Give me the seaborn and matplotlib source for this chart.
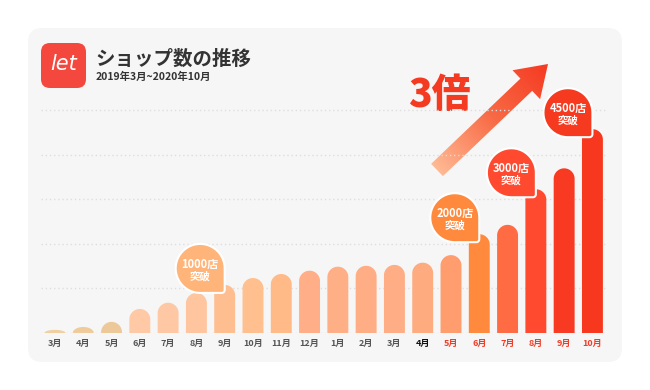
import numpy as np
import pandas as pd
import matplotlib.pyplot as plt
import seaborn as sns
import matplotlib.transforms as mtransforms
from matplotlib.patches import FancyBboxPatch, FancyArrow, Polygon
from matplotlib.colors import LinearSegmentedColormap

sns.set_theme(style="white")
plt.rcParams["font.family"] = ["Noto Sans CJK JP", "DejaVu Sans"]

# data
month_keys = ["2019-03", "2019-04", "2019-05", "2019-06", "2019-07", "2019-08", "2019-09",
              "2019-10", "2019-11", "2019-12", "2020-01", "2020-02", "2020-03", "2020-04",
              "2020-05", "2020-06", "2020-07", "2020-08", "2020-09", "2020-10"]
month_labels = ["3月", "4月", "5月", "6月", "7月", "8月", "9月", "10月", "11月", "12月",
                "1月", "2月", "3月", "4月", "5月", "6月", "7月", "8月", "9月", "10月"]
shops = [70, 135, 250, 540, 680, 900, 1080, 1235, 1325, 1400,
         1490, 1510, 1530, 1580, 1750, 2220, 2430, 3230, 3700, 4580]
milestone_keys = ["2019-09", "2020-06", "2020-08", "2020-10"]
milestone_labels = ["1000店", "2000店", "3000店", "4500店"]

# styles
bar_colors = ["#F0CFA2", "#EFCB9C", "#EDC99A", "#FFC9A6", "#FFC8A4", "#FFC59F", "#FFBE90",
              "#FFBF8E", "#FFBA88", "#FFAE88", "#FFAF86", "#FFAD84", "#FFAD84", "#FFAB80",
              "#FF9D6E", "#FF8A3D", "#FF6B42", "#FF4A30", "#F93A22", "#F7381E"]
label_colors = ["#555555"] * 13 + ["#111111"] + ["#F23C26"] * 6
bubble_colors = ["#FFB57A", "#FF8A3D", "#FF4A30", "#F63A20"]
RED = "#F53A22"

df = pd.DataFrame({"key": month_keys, "shops": shops})

fig = plt.figure(figsize=(6.5, 3.9), dpi=100)
fig.patch.set_facecolor("white")

# background layer in pixel coordinates
bg = fig.add_axes([0, 0, 1, 1], zorder=0)
bg.axis("off")
bg.add_patch(FancyBboxPatch((28, 28), 594, 334, boxstyle="round,pad=0,rounding_size=14",
                            fc="#F6F6F6", ec="none"))
bg.add_patch(FancyBboxPatch((41, 43), 45, 45, boxstyle="round,pad=0,rounding_size=9",
                            fc="#F4473D", ec="none"))
bg.text(63.5, 64, "let", color="white", fontsize=15, fontstyle="italic",
        family="DejaVu Sans", ha="center", va="center")
bg.text(95, 59, "ショップ数の推移", fontsize=14, fontweight="bold", color="#333333", va="center")
bg.text(96, 77, "2019年3月~2020年10月", fontsize=7.5, fontweight="bold", color="#333333",
        va="center")
bg.text(408, 95, "3倍", fontsize=28, fontweight="heavy", color=RED, va="center")

# gradient arrow
x0, y0, x1, y1 = 437, 170, 548, 64
arrow = FancyArrow(x0, y0, x1 - x0, y1 - y0, width=17, head_width=40, head_length=30,
                   length_includes_head=True, fc="none", ec="none")
bg.add_patch(arrow)
gx, gy = np.meshgrid(np.linspace(420, 570, 150), np.linspace(50, 185, 135))
L = np.hypot(x1 - x0, y1 - y0)
grad = ((gx - x0) * (x1 - x0) + (gy - y0) * (y1 - y0)) / L ** 2
cmap = LinearSegmentedColormap.from_list("arr", ["#FFB993", "#F86A45", RED])
im = bg.imshow(grad, extent=(420, 570, 185, 50), origin="upper", cmap=cmap,
               vmin=0, vmax=1, aspect="auto", zorder=3)
im.set_clip_path(arrow)
bg.set_xlim(0, 650)
bg.set_ylim(390, 0)

# chart
ax = fig.add_axes([0.0628, 0.1462, 0.8704, 0.5819], zorder=1)
ax.set_facecolor("none")
sns.barplot(data=df, x="key", y="shops", hue="key", palette=bar_colors, legend=False,
            width=0.74, saturation=1, ax=ax)
ax.set_xlim(-0.5, 19.5)
ax.set_ylim(0, 5100)
ax.set_yticks(range(0, 5001, 1000))
ax.yaxis.grid(True, color="#DEDEDE", linewidth=1, linestyle=(0, (1, 2)))
ax.set_axisbelow(True)
ax.tick_params(axis="y", left=False, labelleft=False)
ax.set_xlabel("")
ax.set_ylabel("")
sns.despine(ax=ax, left=True, bottom=True)
ax.set_xticks(range(len(month_labels)))
ax.set_xticklabels(month_labels, fontsize=6.5, fontweight="bold")
for lab, c in zip(ax.get_xticklabels(), label_colors):
    lab.set_color(c)
ax.tick_params(axis="x", length=0, pad=4)

# rounded tops on seaborn's bars
px_per_unit = ax.transData.transform((0, 1000))[1] / 1000 - ax.transData.transform((0, 0))[1] / 1000
for p in list(ax.patches):
    bx, bw, bh = p.get_x(), p.get_width(), p.get_height()
    w_px = ax.transData.transform((bw, 0))[0] - ax.transData.transform((0, 0))[0]
    ry = min((w_px / 2) / px_per_unit, bh)
    t = np.linspace(np.pi, 0, 40)
    cx = bx + bw / 2
    verts = [(bx, 0)] + list(zip(cx + bw / 2 * np.cos(t), bh - ry + ry * np.sin(t))) + [(bx + bw, 0)]
    ax.add_patch(Polygon(verts, closed=True, fc=p.get_facecolor(), ec="none", zorder=2))
    p.set_visible(False)

# milestone bubbles, anchored on top of their bars
s, R, rs, drop = 49, 24.5, 3, 8


def arc(cx, cy, r, a0, a1):
    a = np.radians(np.linspace(a0, a1, 20))
    return list(zip(cx + r * np.cos(a), cy + r * np.sin(a)))


yb = -drop
yt = yb + s
bubble = (arc(-rs, yb + rs, rs, -90, 0) + arc(-R, yt - R, R, 0, 90)
          + arc(-s + R, yt - R, R, 90, 180) + arc(-s + R, yb + R, R, 180, 270))
for k, lab, c in zip(milestone_keys, milestone_labels, bubble_colors):
    i = month_keys.index(k)
    trans = mtransforms.Affine2D() + mtransforms.ScaledTranslation(i, shops[i], ax.transData)
    ax.add_patch(Polygon(bubble, closed=True, transform=trans, fc=c, ec="white", lw=1.5,
                         clip_on=False, zorder=4))
    ax.text(-s / 2, yb + s / 2 + 4, lab, transform=trans, ha="center", va="center",
            fontsize=8, fontweight="bold", color="white", zorder=5)
    ax.text(-s / 2, yb + s / 2 - 8, "突破", transform=trans, ha="center", va="center",
            fontsize=7.5, fontweight="bold", color="white", zorder=5)

fig.savefig("out.png", dpi=100)
